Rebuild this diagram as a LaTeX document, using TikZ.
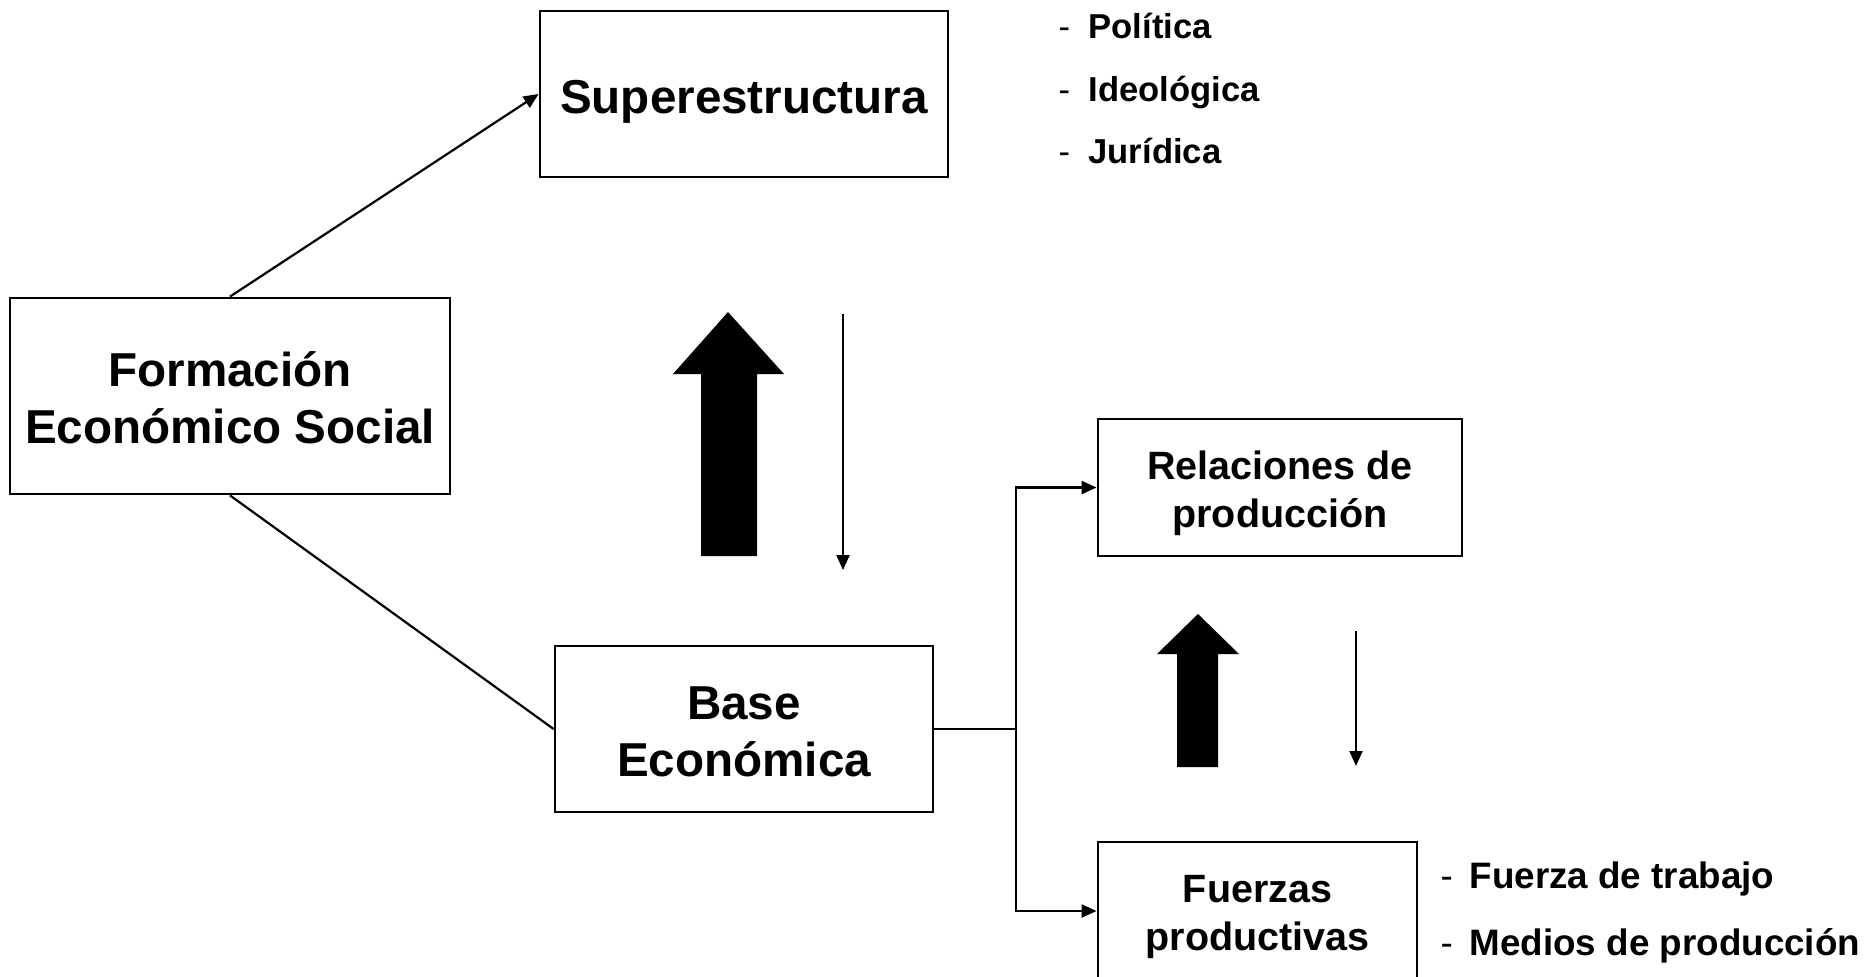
\documentclass[tikz,border=0pt]{standalone}
\usepackage{fontspec}
\setmainfont{Liberation Sans}
\usepackage{tikz}
\usetikzlibrary{positioning}
\usetikzlibrary{arrows.meta}

\newcommand{\alto}[1]{\rule{0pt}{#1}}% pushes the first line down a little

\begin{document}
\begin{tikzpicture}[
            x = 0.5pt, y = -0.5pt, % one unit per pixel, y going down
            > = {Triangle[length=7.5pt,width=6.5pt]}, % arrow head style
            semithick % line style
        ]

        \tikzstyle{caja}=[
            draw,
            line width = 1.4pt,
            align = center,
            inner sep = 0pt,
            font = \fontsize{23.8}{28.5}\selectfont\bfseries
        ]
        \tikzstyle{cajita}=[caja, font = \fontsize{19.75}{24}\selectfont\bfseries]
        \tikzstyle{item}=[anchor = base west, inner sep = 0pt, font = \fontsize{17.3}{20}\selectfont\bfseries]
        \tikzstyle{linea}=[line width = 1.1pt]

        \useasboundingbox (0,0) rectangle (1870,976);
        \clip (0,0) rectangle (1870,976);

        % main boxes
        \node[caja, minimum width = 220pt, minimum height = 98pt] (form) at (230,396) {\alto{19.5pt}Formación\\Económico Social};
        \node[caja, minimum width = 204pt, minimum height = 83pt] (sup) at (744,94) {\alto{24.8pt}Superestructura};
        \node[caja, minimum width = 189pt, minimum height = 83pt] (base) at (744,729) {\alto{18.8pt}Base\\Económica};

        \draw[linea,->] (form.north) -- (sup.west);
        \draw[linea] (form.south) -- (base.west);

        % superstructure levels
        \node[item] (pol) at (1058,38) {\makebox[15pt][l]{\mdseries -}Política};
        \node[item] (ideo) at (1058,101) {\makebox[15pt][l]{\mdseries -}Ideológica};
        \node[item] (jur) at (1058,163) {\makebox[15pt][l]{\mdseries -}Jurídica};

        % base and superstructure
        \fill (701,556) -- (701,374) -- (673,374) -- (728,312) -- (784,374) -- (757,374) -- (757,556) -- cycle;
        \coordinate (s1) at (843,314);
        \coordinate (e1) at (843,570);
        \draw[linea,->] (s1) -- (e1);

        % economic base
        \node[cajita, minimum width = 182pt, minimum height = 68.5pt] (rel) at (1280,487.5) {\alto{20.4pt}Relaciones de\\producción};
        \node[cajita, minimum width = 159.5pt, minimum height = 69pt] (fuer) at (1257.5,911) {\alto{19.6pt}Fuerzas\\productivas};

        \coordinate (junc) at (1016,729);
        \draw[linea] (base.east) -- (junc);
        \draw[linea,->] (junc) |- (rel.west);
        \draw[linea,->] (junc) |- (fuer.west);

        \fill (1177,767) -- (1177,654) -- (1157,654) -- (1198,614) -- (1239,654) -- (1218,654) -- (1218,767) -- cycle;
        \coordinate (s2) at (1356,631);
        \coordinate (e2) at (1356,766);
        \draw[linea,->] (s2) -- (e2);

        % productive forces
        \node[item, font = \fontsize{18.4}{20}\selectfont\bfseries] (ftra) at (1440,888) {\makebox[14.5pt][l]{\mdseries -}Fuerza de trabajo};
        \node[item, font = \fontsize{18.4}{20}\selectfont\bfseries] (med) at (1440,955) {\makebox[14.5pt][l]{\mdseries -}Medios de producción};

\end{tikzpicture}
\end{document}
